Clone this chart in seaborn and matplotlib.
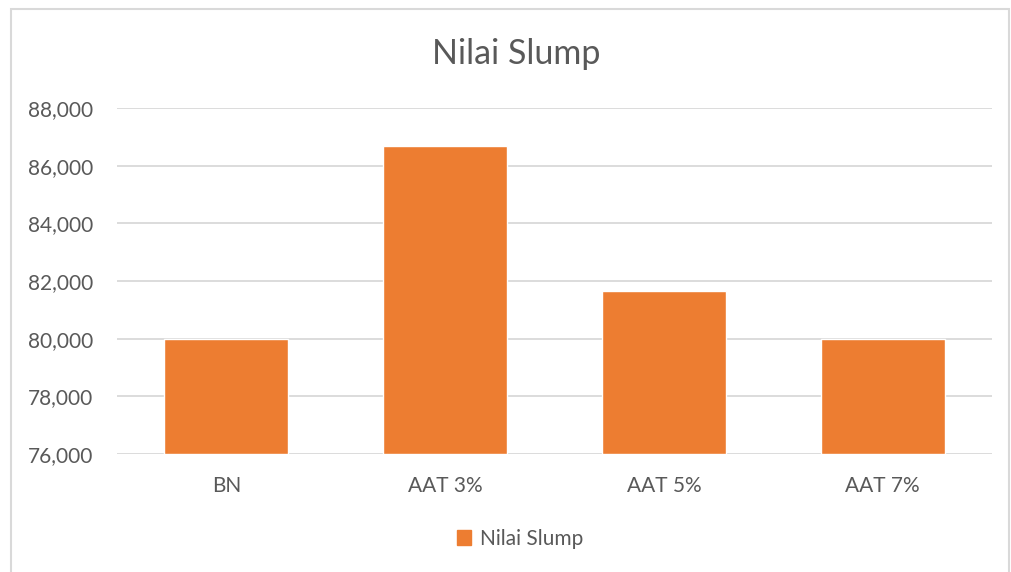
import matplotlib
matplotlib.use("Agg")

import matplotlib.pyplot as plt
import matplotlib.patches as mpatches
import seaborn as sns
import pandas as pd

# data
kategori = ["BN", "AAT 3%", "AAT 5%", "AAT 7%"]
nilai_slump = [80.000, 86.667, 81.667, 80.000]
y_ticks = [76, 78, 80, 82, 84, 86, 88]
y_tick_labels = ["76,000", "78,000", "80,000", "82,000", "84,000", "86,000", "88,000"]

ORANGE = "#ED7D31"
TEXT = "#595959"
GRID = "#D9D9D9"

sns.set_theme(style="white")
plt.rcParams["font.family"] = ["Lato", "DejaVu Sans"]

df = pd.DataFrame({"kategori": kategori, "nilai": nilai_slump})

fig = plt.figure(figsize=(10.12, 5.72), dpi=100)
ax = fig.add_axes([117 / 1012, 118 / 572, 875 / 1012, 346 / 572])

sns.barplot(data=df, x="kategori", y="nilai", color=ORANGE, saturation=1,
            width=0.567, ax=ax, zorder=3)
# bars start from the axis floor (Excel style)
for p in ax.patches:
    p.set_y(76)
    p.set_height(p.get_height() - 76)

ax.set_ylim(76, 88)
ax.set_xlim(-0.5, 3.5)
ax.set_yticks(y_ticks)
ax.set_yticklabels(y_tick_labels)
ax.yaxis.grid(True, color=GRID, linewidth=1.3, zorder=0)
ax.set_xlabel("")
ax.set_ylabel("")
for s in ax.spines.values():
    s.set_visible(False)
ax.tick_params(axis="y", colors=TEXT, labelsize=15, length=0, pad=17)
ax.tick_params(axis="x", colors=TEXT, labelsize=15, length=0, pad=16)

fig.text(516 / 1012, 1 - 54 / 572, "Nilai Slump", ha="center", va="center",
         fontsize=24.5, color=TEXT)

handle = mpatches.Patch(color=ORANGE, label="Nilai Slump")
fig.legend(handles=[handle], loc="center", bbox_to_anchor=(520 / 1012, 1 - 539 / 572),
           frameon=False, fontsize=15, labelcolor=TEXT, handlelength=0.7,
           handleheight=0.7, handletextpad=0.4)

# chart border
border = mpatches.Rectangle((11 / 1012, -0.1), 998 / 1012, 1 - 9 / 572 + 0.1,
                            transform=fig.transFigure, fill=False,
                            edgecolor="#D9D9D9", linewidth=1.5)
fig.patches.append(border)

fig.savefig("out.png", dpi=100)
